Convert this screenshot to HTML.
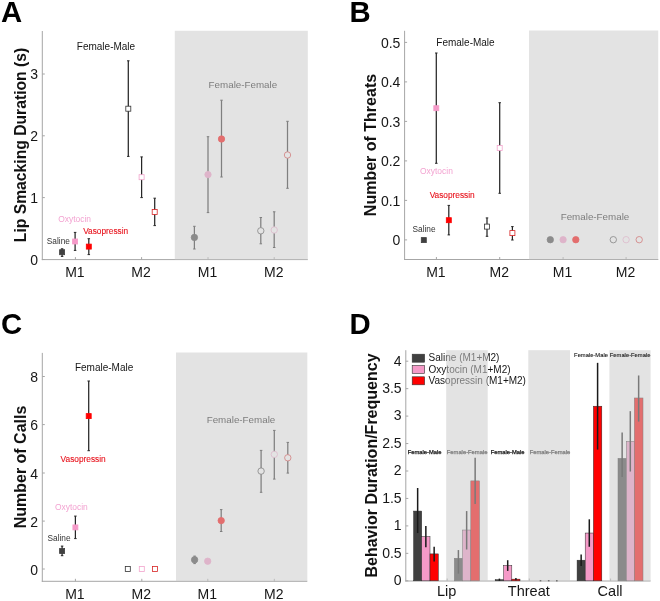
<!DOCTYPE html>
<html><head><meta charset="utf-8"><style>
html,body{margin:0;padding:0;background:#fff;}
body{width:660px;height:601px;overflow:hidden;}
svg{display:block;font-family:"Liberation Sans", sans-serif;will-change:transform;}
</style></head><body>
<svg width="660" height="601" viewBox="0 0 660 601">
<rect x="0" y="0" width="660" height="601" fill="#fff"/>
<text x="1.0" y="22.3" font-size="29.3" fill="#000" text-anchor="start" font-weight="bold" >A</text>
<line x1="42.3" y1="31" x2="42.3" y2="260.1" stroke="#a6a6a6" stroke-width="1"/>
<line x1="41.8" y1="259.6" x2="307.8" y2="259.6" stroke="#a6a6a6" stroke-width="1"/>
<line x1="42.3" y1="259.5" x2="44.8" y2="259.5" stroke="#a6a6a6" stroke-width="1"/>
<text x="38.099999999999994" y="264.5" font-size="14" fill="#161616" text-anchor="end" font-weight="normal" >0</text>
<line x1="42.3" y1="197.6" x2="44.8" y2="197.6" stroke="#a6a6a6" stroke-width="1"/>
<text x="38.099999999999994" y="202.6" font-size="14" fill="#161616" text-anchor="end" font-weight="normal" >1</text>
<line x1="42.3" y1="135.8" x2="44.8" y2="135.8" stroke="#a6a6a6" stroke-width="1"/>
<text x="38.099999999999994" y="140.8" font-size="14" fill="#161616" text-anchor="end" font-weight="normal" >2</text>
<line x1="42.3" y1="74.0" x2="44.8" y2="74.0" stroke="#a6a6a6" stroke-width="1"/>
<text x="38.099999999999994" y="79.0" font-size="14" fill="#161616" text-anchor="end" font-weight="normal" >3</text>
<line x1="75.4" y1="259.6" x2="75.4" y2="257.1" stroke="#a6a6a6" stroke-width="1"/>
<text x="74.9" y="277.20000000000005" font-size="14" fill="#161616" text-anchor="middle" font-weight="normal" >M1</text>
<line x1="141.6" y1="259.6" x2="141.6" y2="257.1" stroke="#a6a6a6" stroke-width="1"/>
<text x="141.1" y="277.20000000000005" font-size="14" fill="#161616" text-anchor="middle" font-weight="normal" >M2</text>
<line x1="208.0" y1="259.6" x2="208.0" y2="257.1" stroke="#a6a6a6" stroke-width="1"/>
<text x="207.5" y="277.20000000000005" font-size="14" fill="#161616" text-anchor="middle" font-weight="normal" >M1</text>
<line x1="274.2" y1="259.6" x2="274.2" y2="257.1" stroke="#a6a6a6" stroke-width="1"/>
<text x="273.7" y="277.20000000000005" font-size="14" fill="#161616" text-anchor="middle" font-weight="normal" >M2</text>
<text x="0" y="0" font-size="15.7" font-weight="bold" fill="#111" text-anchor="middle" transform="translate(26,145) rotate(-90)">Lip Smacking Duration (s)</text>
<line x1="62.1" y1="248.8" x2="62.1" y2="256.4" stroke="#262626" stroke-width="1.25"/>
<line x1="60.85" y1="248.8" x2="63.35" y2="248.8" stroke="#262626" stroke-width="1"/>
<line x1="60.85" y1="256.4" x2="63.35" y2="256.4" stroke="#262626" stroke-width="1"/>
<rect x="59.60" y="249.70" width="5.00" height="5.00" fill="#404040" stroke="#404040" stroke-width="0.8"/>
<line x1="75.1" y1="232.4" x2="75.1" y2="250.4" stroke="#262626" stroke-width="1.25"/>
<line x1="73.85" y1="232.4" x2="76.35" y2="232.4" stroke="#262626" stroke-width="1"/>
<line x1="73.85" y1="250.4" x2="76.35" y2="250.4" stroke="#262626" stroke-width="1"/>
<rect x="72.60" y="239.00" width="5.00" height="5.00" fill="#f59ac8" stroke="#f59ac8" stroke-width="0.8"/>
<line x1="88.8" y1="238.7" x2="88.8" y2="254.6" stroke="#262626" stroke-width="1.25"/>
<line x1="87.55" y1="238.7" x2="90.05" y2="238.7" stroke="#262626" stroke-width="1"/>
<line x1="87.55" y1="254.6" x2="90.05" y2="254.6" stroke="#262626" stroke-width="1"/>
<rect x="86.30" y="244.10" width="5.00" height="5.00" fill="#ff0000" stroke="#ff0000" stroke-width="0.8"/>
<line x1="128.3" y1="60.8" x2="128.3" y2="156.4" stroke="#262626" stroke-width="1.25"/>
<line x1="127.05000000000001" y1="60.8" x2="129.55" y2="60.8" stroke="#262626" stroke-width="1"/>
<line x1="127.05000000000001" y1="156.4" x2="129.55" y2="156.4" stroke="#262626" stroke-width="1"/>
<rect x="125.80" y="106.20" width="5.00" height="5.00" fill="#fff" stroke="#333333" stroke-width="0.8"/>
<line x1="141.6" y1="156.9" x2="141.6" y2="197.6" stroke="#262626" stroke-width="1.25"/>
<line x1="140.35" y1="156.9" x2="142.85" y2="156.9" stroke="#262626" stroke-width="1"/>
<line x1="140.35" y1="197.6" x2="142.85" y2="197.6" stroke="#262626" stroke-width="1"/>
<rect x="139.10" y="174.70" width="5.00" height="5.00" fill="#fff" stroke="#f2a4cc" stroke-width="0.8"/>
<line x1="154.7" y1="198.2" x2="154.7" y2="225.6" stroke="#262626" stroke-width="1.25"/>
<line x1="153.45" y1="198.2" x2="155.95" y2="198.2" stroke="#262626" stroke-width="1"/>
<line x1="153.45" y1="225.6" x2="155.95" y2="225.6" stroke="#262626" stroke-width="1"/>
<rect x="152.20" y="209.50" width="5.00" height="5.00" fill="#fff" stroke="#d82424" stroke-width="0.8"/>
<line x1="194.4" y1="226.3" x2="194.4" y2="249.0" stroke="#262626" stroke-width="1.25"/>
<line x1="193.15" y1="226.3" x2="195.65" y2="226.3" stroke="#262626" stroke-width="1"/>
<line x1="193.15" y1="249.0" x2="195.65" y2="249.0" stroke="#262626" stroke-width="1"/>
<circle cx="194.4" cy="237.4" r="3.2" fill="#404040" stroke="#404040" stroke-width="0.8"/>
<line x1="208.0" y1="136.7" x2="208.0" y2="212.6" stroke="#262626" stroke-width="1.25"/>
<line x1="206.75" y1="136.7" x2="209.25" y2="136.7" stroke="#262626" stroke-width="1"/>
<line x1="206.75" y1="212.6" x2="209.25" y2="212.6" stroke="#262626" stroke-width="1"/>
<circle cx="208.0" cy="174.6" r="3.2" fill="#f59ac8" stroke="#f59ac8" stroke-width="0.8"/>
<line x1="221.5" y1="100.2" x2="221.5" y2="177.0" stroke="#262626" stroke-width="1.25"/>
<line x1="220.25" y1="100.2" x2="222.75" y2="100.2" stroke="#262626" stroke-width="1"/>
<line x1="220.25" y1="177.0" x2="222.75" y2="177.0" stroke="#262626" stroke-width="1"/>
<circle cx="221.5" cy="139.0" r="3.2" fill="#ff0000" stroke="#ff0000" stroke-width="0.8"/>
<line x1="260.8" y1="217.5" x2="260.8" y2="243.8" stroke="#262626" stroke-width="1.25"/>
<line x1="259.55" y1="217.5" x2="262.05" y2="217.5" stroke="#262626" stroke-width="1"/>
<line x1="259.55" y1="243.8" x2="262.05" y2="243.8" stroke="#262626" stroke-width="1"/>
<circle cx="260.8" cy="230.8" r="3.2" fill="#fff" stroke="#333333" stroke-width="0.8"/>
<line x1="274.2" y1="211.8" x2="274.2" y2="247.5" stroke="#262626" stroke-width="1.25"/>
<line x1="272.95" y1="211.8" x2="275.45" y2="211.8" stroke="#262626" stroke-width="1"/>
<line x1="272.95" y1="247.5" x2="275.45" y2="247.5" stroke="#262626" stroke-width="1"/>
<circle cx="274.2" cy="230.0" r="3.2" fill="#fff" stroke="#f2a4cc" stroke-width="0.8"/>
<line x1="287.5" y1="121.3" x2="287.5" y2="188.3" stroke="#262626" stroke-width="1.25"/>
<line x1="286.25" y1="121.3" x2="288.75" y2="121.3" stroke="#262626" stroke-width="1"/>
<line x1="286.25" y1="188.3" x2="288.75" y2="188.3" stroke="#262626" stroke-width="1"/>
<circle cx="287.5" cy="155.0" r="3.2" fill="#fff" stroke="#d82424" stroke-width="0.8"/>
<text x="76.8" y="49.7" font-size="10" fill="#161616" text-anchor="start" font-weight="normal" >Female-Male</text>
<text x="208.6" y="88.3" font-size="9.8" fill="#161616" text-anchor="start" font-weight="normal" >Female-Female</text>
<text x="58.2" y="222.4" font-size="8.45" fill="#f3a3d1" text-anchor="start" font-weight="normal" >Oxytocin</text>
<text x="83.2" y="233.9" font-size="8.3" fill="#e8141e" text-anchor="start" font-weight="normal" stroke="#e8141e" stroke-width="0.12">Vasopressin</text>
<text x="46.8" y="243.6" font-size="8.3" fill="#333" text-anchor="start" font-weight="normal" >Saline</text>
<rect x="174.80" y="30.80" width="133.00" height="228.80" fill="#cbcbcb" stroke="none" stroke-width="1" fill-opacity="0.54"/>
<text x="349.6" y="22.3" font-size="29.3" fill="#000" text-anchor="start" font-weight="bold" >B</text>
<line x1="404.6" y1="30.8" x2="404.6" y2="260.0" stroke="#a6a6a6" stroke-width="1"/>
<line x1="404.1" y1="259.5" x2="658.3" y2="259.5" stroke="#a6a6a6" stroke-width="1"/>
<line x1="404.6" y1="239.9" x2="407.1" y2="239.9" stroke="#a6a6a6" stroke-width="1"/>
<text x="400.40000000000003" y="245.4" font-size="14" fill="#161616" text-anchor="end" font-weight="normal" >0</text>
<line x1="404.6" y1="200.4" x2="407.1" y2="200.4" stroke="#a6a6a6" stroke-width="1"/>
<text x="400.40000000000003" y="205.9" font-size="14" fill="#161616" text-anchor="end" font-weight="normal" >0.1</text>
<line x1="404.6" y1="160.9" x2="407.1" y2="160.9" stroke="#a6a6a6" stroke-width="1"/>
<text x="400.40000000000003" y="166.4" font-size="14" fill="#161616" text-anchor="end" font-weight="normal" >0.2</text>
<line x1="404.6" y1="121.4" x2="407.1" y2="121.4" stroke="#a6a6a6" stroke-width="1"/>
<text x="400.40000000000003" y="126.9" font-size="14" fill="#161616" text-anchor="end" font-weight="normal" >0.3</text>
<line x1="404.6" y1="81.9" x2="407.1" y2="81.9" stroke="#a6a6a6" stroke-width="1"/>
<text x="400.40000000000003" y="87.4" font-size="14" fill="#161616" text-anchor="end" font-weight="normal" >0.4</text>
<line x1="404.6" y1="42.4" x2="407.1" y2="42.4" stroke="#a6a6a6" stroke-width="1"/>
<text x="400.40000000000003" y="47.9" font-size="14" fill="#161616" text-anchor="end" font-weight="normal" >0.5</text>
<line x1="436.4" y1="259.5" x2="436.4" y2="257.0" stroke="#a6a6a6" stroke-width="1"/>
<text x="435.9" y="277.1" font-size="14" fill="#161616" text-anchor="middle" font-weight="normal" >M1</text>
<line x1="499.7" y1="259.5" x2="499.7" y2="257.0" stroke="#a6a6a6" stroke-width="1"/>
<text x="499.2" y="277.1" font-size="14" fill="#161616" text-anchor="middle" font-weight="normal" >M2</text>
<line x1="563.1" y1="259.5" x2="563.1" y2="257.0" stroke="#a6a6a6" stroke-width="1"/>
<text x="562.6" y="277.1" font-size="14" fill="#161616" text-anchor="middle" font-weight="normal" >M1</text>
<line x1="626.1" y1="259.5" x2="626.1" y2="257.0" stroke="#a6a6a6" stroke-width="1"/>
<text x="625.6" y="277.1" font-size="14" fill="#161616" text-anchor="middle" font-weight="normal" >M2</text>
<text x="0" y="0" font-size="16" font-weight="bold" fill="#111" text-anchor="middle" transform="translate(376,145) rotate(-90)">Number of Threats</text>
<rect x="421.30" y="237.60" width="5.00" height="5.00" fill="#404040" stroke="#404040" stroke-width="0.8"/>
<line x1="436.3" y1="53.0" x2="436.3" y2="163.3" stroke="#262626" stroke-width="1.25"/>
<line x1="435.05" y1="53.0" x2="437.55" y2="53.0" stroke="#262626" stroke-width="1"/>
<line x1="435.05" y1="163.3" x2="437.55" y2="163.3" stroke="#262626" stroke-width="1"/>
<rect x="433.80" y="105.70" width="5.00" height="5.00" fill="#f59ac8" stroke="#f59ac8" stroke-width="0.8"/>
<line x1="448.8" y1="205.4" x2="448.8" y2="234.9" stroke="#262626" stroke-width="1.25"/>
<line x1="447.55" y1="205.4" x2="450.05" y2="205.4" stroke="#262626" stroke-width="1"/>
<line x1="447.55" y1="234.9" x2="450.05" y2="234.9" stroke="#262626" stroke-width="1"/>
<rect x="446.30" y="217.70" width="5.00" height="5.00" fill="#ff0000" stroke="#ff0000" stroke-width="0.8"/>
<line x1="487.0" y1="217.9" x2="487.0" y2="236.3" stroke="#262626" stroke-width="1.25"/>
<line x1="485.75" y1="217.9" x2="488.25" y2="217.9" stroke="#262626" stroke-width="1"/>
<line x1="485.75" y1="236.3" x2="488.25" y2="236.3" stroke="#262626" stroke-width="1"/>
<rect x="484.50" y="224.10" width="5.00" height="5.00" fill="#fff" stroke="#333333" stroke-width="0.8"/>
<line x1="499.7" y1="102.7" x2="499.7" y2="193.3" stroke="#262626" stroke-width="1.25"/>
<line x1="498.45" y1="102.7" x2="500.95" y2="102.7" stroke="#262626" stroke-width="1"/>
<line x1="498.45" y1="193.3" x2="500.95" y2="193.3" stroke="#262626" stroke-width="1"/>
<rect x="497.20" y="145.50" width="5.00" height="5.00" fill="#fff" stroke="#f2a4cc" stroke-width="0.8"/>
<line x1="512.4" y1="226.6" x2="512.4" y2="240.0" stroke="#262626" stroke-width="1.25"/>
<line x1="511.15" y1="226.6" x2="513.65" y2="226.6" stroke="#262626" stroke-width="1"/>
<line x1="511.15" y1="240.0" x2="513.65" y2="240.0" stroke="#262626" stroke-width="1"/>
<rect x="509.90" y="230.60" width="5.00" height="5.00" fill="#fff" stroke="#d82424" stroke-width="0.8"/>
<circle cx="550.3" cy="239.7" r="3.2" fill="#404040" stroke="#404040" stroke-width="0.8"/>
<circle cx="563.1" cy="239.7" r="3.2" fill="#f59ac8" stroke="#f59ac8" stroke-width="0.8"/>
<circle cx="575.8" cy="239.7" r="3.2" fill="#ff0000" stroke="#ff0000" stroke-width="0.8"/>
<circle cx="613.3" cy="239.7" r="3.2" fill="#fff" stroke="#333333" stroke-width="0.8"/>
<circle cx="626.1" cy="239.7" r="3.2" fill="#fff" stroke="#f2a4cc" stroke-width="0.8"/>
<circle cx="639.2" cy="239.7" r="3.2" fill="#fff" stroke="#d82424" stroke-width="0.8"/>
<text x="436.3" y="46.1" font-size="10" fill="#161616" text-anchor="start" font-weight="normal" >Female-Male</text>
<text x="560.7" y="219.5" font-size="9.8" fill="#161616" text-anchor="start" font-weight="normal" >Female-Female</text>
<text x="420.0" y="173.9" font-size="8.45" fill="#f3a3d1" text-anchor="start" font-weight="normal" >Oxytocin</text>
<text x="429.7" y="197.9" font-size="8.3" fill="#e8141e" text-anchor="start" font-weight="normal" stroke="#e8141e" stroke-width="0.12">Vasopressin</text>
<text x="412.5" y="231.9" font-size="8.3" fill="#333" text-anchor="start" font-weight="normal" >Saline</text>
<rect x="529.00" y="30.50" width="129.20" height="229.00" fill="#cbcbcb" stroke="none" stroke-width="1" fill-opacity="0.54"/>
<text x="1.0" y="333.8" font-size="29.3" fill="#000" text-anchor="start" font-weight="bold" >C</text>
<line x1="42.3" y1="352.9" x2="42.3" y2="581.8" stroke="#a6a6a6" stroke-width="1"/>
<line x1="41.8" y1="581.3" x2="307.3" y2="581.3" stroke="#a6a6a6" stroke-width="1"/>
<line x1="42.3" y1="569.0" x2="44.8" y2="569.0" stroke="#a6a6a6" stroke-width="1"/>
<text x="38.099999999999994" y="574.5" font-size="14" fill="#161616" text-anchor="end" font-weight="normal" >0</text>
<line x1="42.3" y1="521.1" x2="44.8" y2="521.1" stroke="#a6a6a6" stroke-width="1"/>
<text x="38.099999999999994" y="526.6" font-size="14" fill="#161616" text-anchor="end" font-weight="normal" >2</text>
<line x1="42.3" y1="473.0" x2="44.8" y2="473.0" stroke="#a6a6a6" stroke-width="1"/>
<text x="38.099999999999994" y="478.5" font-size="14" fill="#161616" text-anchor="end" font-weight="normal" >4</text>
<line x1="42.3" y1="424.6" x2="44.8" y2="424.6" stroke="#a6a6a6" stroke-width="1"/>
<text x="38.099999999999994" y="430.1" font-size="14" fill="#161616" text-anchor="end" font-weight="normal" >6</text>
<line x1="42.3" y1="376.5" x2="44.8" y2="376.5" stroke="#a6a6a6" stroke-width="1"/>
<text x="38.099999999999994" y="382.0" font-size="14" fill="#161616" text-anchor="end" font-weight="normal" >8</text>
<line x1="75.4" y1="581.3" x2="75.4" y2="578.8" stroke="#a6a6a6" stroke-width="1"/>
<text x="74.9" y="598.9" font-size="14" fill="#161616" text-anchor="middle" font-weight="normal" >M1</text>
<line x1="141.8" y1="581.3" x2="141.8" y2="578.8" stroke="#a6a6a6" stroke-width="1"/>
<text x="141.3" y="598.9" font-size="14" fill="#161616" text-anchor="middle" font-weight="normal" >M2</text>
<line x1="207.8" y1="581.3" x2="207.8" y2="578.8" stroke="#a6a6a6" stroke-width="1"/>
<text x="207.3" y="598.9" font-size="14" fill="#161616" text-anchor="middle" font-weight="normal" >M1</text>
<line x1="274.3" y1="581.3" x2="274.3" y2="578.8" stroke="#a6a6a6" stroke-width="1"/>
<text x="273.8" y="598.9" font-size="14" fill="#161616" text-anchor="middle" font-weight="normal" >M2</text>
<text x="0" y="0" font-size="16" font-weight="bold" fill="#111" text-anchor="middle" transform="translate(26,467) rotate(-90)">Number of Calls</text>
<line x1="62.1" y1="546.1" x2="62.1" y2="555.7" stroke="#262626" stroke-width="1.25"/>
<line x1="60.85" y1="546.1" x2="63.35" y2="546.1" stroke="#262626" stroke-width="1"/>
<line x1="60.85" y1="555.7" x2="63.35" y2="555.7" stroke="#262626" stroke-width="1"/>
<rect x="59.60" y="548.60" width="5.00" height="5.00" fill="#404040" stroke="#404040" stroke-width="0.8"/>
<line x1="75.4" y1="516.1" x2="75.4" y2="538.6" stroke="#262626" stroke-width="1.25"/>
<line x1="74.15" y1="516.1" x2="76.65" y2="516.1" stroke="#262626" stroke-width="1"/>
<line x1="74.15" y1="538.6" x2="76.65" y2="538.6" stroke="#262626" stroke-width="1"/>
<rect x="72.90" y="524.90" width="5.00" height="5.00" fill="#f59ac8" stroke="#f59ac8" stroke-width="0.8"/>
<line x1="88.7" y1="381.0" x2="88.7" y2="450.7" stroke="#262626" stroke-width="1.25"/>
<line x1="87.45" y1="381.0" x2="89.95" y2="381.0" stroke="#262626" stroke-width="1"/>
<line x1="87.45" y1="450.7" x2="89.95" y2="450.7" stroke="#262626" stroke-width="1"/>
<rect x="86.20" y="413.60" width="5.00" height="5.00" fill="#ff0000" stroke="#ff0000" stroke-width="0.8"/>
<rect x="125.30" y="566.50" width="5.00" height="5.00" fill="#fff" stroke="#333333" stroke-width="0.8"/>
<rect x="139.30" y="566.50" width="5.00" height="5.00" fill="#fff" stroke="#f2a4cc" stroke-width="0.8"/>
<rect x="152.40" y="566.50" width="5.00" height="5.00" fill="#fff" stroke="#d82424" stroke-width="0.8"/>
<line x1="194.6" y1="556.1" x2="194.6" y2="563.6" stroke="#262626" stroke-width="1.25"/>
<line x1="193.35" y1="556.1" x2="195.85" y2="556.1" stroke="#262626" stroke-width="1"/>
<line x1="193.35" y1="563.6" x2="195.85" y2="563.6" stroke="#262626" stroke-width="1"/>
<circle cx="194.6" cy="559.8" r="3.2" fill="#404040" stroke="#404040" stroke-width="0.8"/>
<circle cx="207.7" cy="561.2" r="3.2" fill="#f59ac8" stroke="#f59ac8" stroke-width="0.8"/>
<line x1="221.2" y1="509.6" x2="221.2" y2="531.5" stroke="#262626" stroke-width="1.25"/>
<line x1="219.95" y1="509.6" x2="222.45" y2="509.6" stroke="#262626" stroke-width="1"/>
<line x1="219.95" y1="531.5" x2="222.45" y2="531.5" stroke="#262626" stroke-width="1"/>
<circle cx="221.2" cy="520.6" r="3.2" fill="#ff0000" stroke="#ff0000" stroke-width="0.8"/>
<line x1="261.1" y1="450.4" x2="261.1" y2="492.3" stroke="#262626" stroke-width="1.25"/>
<line x1="259.85" y1="450.4" x2="262.35" y2="450.4" stroke="#262626" stroke-width="1"/>
<line x1="259.85" y1="492.3" x2="262.35" y2="492.3" stroke="#262626" stroke-width="1"/>
<circle cx="261.1" cy="471.1" r="3.2" fill="#fff" stroke="#333333" stroke-width="0.8"/>
<line x1="274.3" y1="430.4" x2="274.3" y2="479.1" stroke="#262626" stroke-width="1.25"/>
<line x1="273.05" y1="430.4" x2="275.55" y2="430.4" stroke="#262626" stroke-width="1"/>
<line x1="273.05" y1="479.1" x2="275.55" y2="479.1" stroke="#262626" stroke-width="1"/>
<circle cx="274.3" cy="454.4" r="3.2" fill="#fff" stroke="#f2a4cc" stroke-width="0.8"/>
<line x1="287.8" y1="442.4" x2="287.8" y2="473.1" stroke="#262626" stroke-width="1.25"/>
<line x1="286.55" y1="442.4" x2="289.05" y2="442.4" stroke="#262626" stroke-width="1"/>
<line x1="286.55" y1="473.1" x2="289.05" y2="473.1" stroke="#262626" stroke-width="1"/>
<circle cx="287.8" cy="457.8" r="3.2" fill="#fff" stroke="#d82424" stroke-width="0.8"/>
<text x="74.9" y="371.2" font-size="10" fill="#161616" text-anchor="start" font-weight="normal" >Female-Male</text>
<text x="206.7" y="422.9" font-size="9.8" fill="#161616" text-anchor="start" font-weight="normal" >Female-Female</text>
<text x="54.9" y="510.3" font-size="8.45" fill="#f3a3d1" text-anchor="start" font-weight="normal" >Oxytocin</text>
<text x="60.6" y="462.3" font-size="8.3" fill="#e8141e" text-anchor="start" font-weight="normal" stroke="#e8141e" stroke-width="0.12">Vasopressin</text>
<text x="47.5" y="540.7" font-size="8.3" fill="#333" text-anchor="start" font-weight="normal" >Saline</text>
<rect x="176.00" y="352.50" width="131.30" height="228.80" fill="#cbcbcb" stroke="none" stroke-width="1" fill-opacity="0.54"/>
<text x="349.6" y="333.5" font-size="29.3" fill="#000" text-anchor="start" font-weight="bold" >D</text>
<line x1="405.8" y1="350.2" x2="405.8" y2="581.5" stroke="#a6a6a6" stroke-width="1"/>
<line x1="405.3" y1="581.0" x2="650.6" y2="581.0" stroke="#a6a6a6" stroke-width="1"/>
<line x1="405.8" y1="580.8" x2="408.3" y2="580.8" stroke="#a6a6a6" stroke-width="1"/>
<text x="401.6" y="585.0999999999999" font-size="14" fill="#161616" text-anchor="end" font-weight="normal" >0</text>
<line x1="405.8" y1="553.3499999999999" x2="408.3" y2="553.3499999999999" stroke="#a6a6a6" stroke-width="1"/>
<text x="401.6" y="557.6499999999999" font-size="14" fill="#161616" text-anchor="end" font-weight="normal" >0.5</text>
<line x1="405.8" y1="525.9" x2="408.3" y2="525.9" stroke="#a6a6a6" stroke-width="1"/>
<text x="401.6" y="530.1999999999999" font-size="14" fill="#161616" text-anchor="end" font-weight="normal" >1</text>
<line x1="405.8" y1="498.44999999999993" x2="408.3" y2="498.44999999999993" stroke="#a6a6a6" stroke-width="1"/>
<text x="401.6" y="502.74999999999994" font-size="14" fill="#161616" text-anchor="end" font-weight="normal" >1.5</text>
<line x1="405.8" y1="470.99999999999994" x2="408.3" y2="470.99999999999994" stroke="#a6a6a6" stroke-width="1"/>
<text x="401.6" y="475.29999999999995" font-size="14" fill="#161616" text-anchor="end" font-weight="normal" >2</text>
<line x1="405.8" y1="443.54999999999995" x2="408.3" y2="443.54999999999995" stroke="#a6a6a6" stroke-width="1"/>
<text x="401.6" y="447.84999999999997" font-size="14" fill="#161616" text-anchor="end" font-weight="normal" >2.5</text>
<line x1="405.8" y1="416.09999999999997" x2="408.3" y2="416.09999999999997" stroke="#a6a6a6" stroke-width="1"/>
<text x="401.6" y="420.4" font-size="14" fill="#161616" text-anchor="end" font-weight="normal" >3</text>
<line x1="405.8" y1="388.65" x2="408.3" y2="388.65" stroke="#a6a6a6" stroke-width="1"/>
<text x="401.6" y="392.95" font-size="14" fill="#161616" text-anchor="end" font-weight="normal" >3.5</text>
<line x1="405.8" y1="361.19999999999993" x2="408.3" y2="361.19999999999993" stroke="#a6a6a6" stroke-width="1"/>
<text x="401.6" y="365.49999999999994" font-size="14" fill="#161616" text-anchor="end" font-weight="normal" >4</text>
<line x1="447.2" y1="581.0" x2="447.2" y2="578.5" stroke="#a6a6a6" stroke-width="1"/>
<text x="446.7" y="596.2" font-size="14.5" fill="#161616" text-anchor="middle" font-weight="normal" >Lip</text>
<line x1="529.3" y1="581.0" x2="529.3" y2="578.5" stroke="#a6a6a6" stroke-width="1"/>
<text x="528.8" y="596.2" font-size="14.5" fill="#161616" text-anchor="middle" font-weight="normal" >Threat</text>
<line x1="610.6" y1="581.0" x2="610.6" y2="578.5" stroke="#a6a6a6" stroke-width="1"/>
<text x="610.1" y="596.2" font-size="14.5" fill="#161616" text-anchor="middle" font-weight="normal" >Call</text>
<text x="0" y="0" font-size="16" font-weight="bold" fill="#111" text-anchor="middle" transform="translate(377,465.5) rotate(-90)">Behavior Duration/Frequency</text>
<rect x="413.60" y="511.08" width="8.10" height="69.72" fill="#404040" stroke="#2a2a2a" stroke-width="0.5"/>
<line x1="417.65" y1="488.01899999999995" x2="417.65" y2="533.0369999999999" stroke="#1a1a1a" stroke-width="1.5"/>
<rect x="421.70" y="536.61" width="8.30" height="44.19" fill="#f59ac8" stroke="#2a2a2a" stroke-width="0.5"/>
<line x1="425.85" y1="525.9" x2="425.85" y2="547.3109999999999" stroke="#1a1a1a" stroke-width="1.5"/>
<rect x="430.00" y="553.90" width="8.30" height="26.90" fill="#ff0000" stroke="#2a2a2a" stroke-width="0.5"/>
<line x1="434.15" y1="546.762" x2="434.15" y2="561.5849999999999" stroke="#1a1a1a" stroke-width="1.5"/>
<rect x="454.30" y="558.29" width="8.20" height="22.51" fill="#404040" stroke="#2a2a2a" stroke-width="0.5"/>
<line x1="458.4" y1="550.0559999999999" x2="458.4" y2="573.663" stroke="#1a1a1a" stroke-width="1.5"/>
<rect x="462.50" y="530.02" width="8.30" height="50.78" fill="#f59ac8" stroke="#2a2a2a" stroke-width="0.5"/>
<line x1="466.65" y1="511.07699999999994" x2="466.65" y2="549.507" stroke="#1a1a1a" stroke-width="1.5"/>
<rect x="470.80" y="480.88" width="8.70" height="99.92" fill="#ff0000" stroke="#2a2a2a" stroke-width="0.5"/>
<line x1="475.15" y1="457.82399999999996" x2="475.15" y2="503.93999999999994" stroke="#1a1a1a" stroke-width="1.5"/>
<rect x="495.20" y="579.70" width="8.40" height="1.10" fill="#404040" stroke="#2a2a2a" stroke-width="0.5"/>
<line x1="499.4" y1="578.6039999999999" x2="499.4" y2="580.8" stroke="#1a1a1a" stroke-width="1.5"/>
<rect x="503.60" y="565.43" width="8.20" height="15.37" fill="#f59ac8" stroke="#2a2a2a" stroke-width="0.5"/>
<line x1="507.70000000000005" y1="560.2125" x2="507.70000000000005" y2="570.918" stroke="#1a1a1a" stroke-width="1.5"/>
<rect x="511.80" y="579.15" width="8.20" height="1.65" fill="#ff0000" stroke="#2a2a2a" stroke-width="0.5"/>
<line x1="515.9" y1="578.055" x2="515.9" y2="580.251" stroke="#1a1a1a" stroke-width="1.5"/>
<rect x="577.10" y="560.21" width="8.10" height="20.59" fill="#404040" stroke="#2a2a2a" stroke-width="0.5"/>
<line x1="581.1500000000001" y1="554.448" x2="581.1500000000001" y2="565.977" stroke="#1a1a1a" stroke-width="1.5"/>
<rect x="585.20" y="533.04" width="8.20" height="47.76" fill="#f59ac8" stroke="#2a2a2a" stroke-width="0.5"/>
<line x1="589.3" y1="519.3119999999999" x2="589.3" y2="546.762" stroke="#1a1a1a" stroke-width="1.5"/>
<rect x="593.40" y="406.22" width="8.40" height="174.58" fill="#ff0000" stroke="#2a2a2a" stroke-width="0.5"/>
<line x1="597.5999999999999" y1="362.847" x2="597.5999999999999" y2="449.58899999999994" stroke="#1a1a1a" stroke-width="1.5"/>
<rect x="618.00" y="458.37" width="8.30" height="122.43" fill="#404040" stroke="#2a2a2a" stroke-width="0.5"/>
<line x1="622.15" y1="432.56999999999994" x2="622.15" y2="477.039" stroke="#1a1a1a" stroke-width="1.5"/>
<rect x="626.30" y="441.35" width="8.00" height="139.45" fill="#f59ac8" stroke="#2a2a2a" stroke-width="0.5"/>
<line x1="630.3" y1="411.159" x2="630.3" y2="471.549" stroke="#1a1a1a" stroke-width="1.5"/>
<rect x="634.30" y="397.98" width="8.70" height="182.82" fill="#ff0000" stroke="#2a2a2a" stroke-width="0.5"/>
<line x1="638.65" y1="375.47399999999993" x2="638.65" y2="421.59" stroke="#1a1a1a" stroke-width="1.5"/>
<line x1="539.7" y1="580.6" x2="541.3" y2="580.6" stroke="#111" stroke-width="1.2"/>
<line x1="547.9000000000001" y1="580.6" x2="549.5" y2="580.6" stroke="#111" stroke-width="1.2"/>
<line x1="556.0" y1="580.6" x2="557.5999999999999" y2="580.6" stroke="#111" stroke-width="1.2"/>
<rect x="412.20" y="354.20" width="12.40" height="8.00" fill="#404040" stroke="#333" stroke-width="0.6"/>
<text x="428.6" y="361.4" font-size="10" fill="#161616" text-anchor="start" font-weight="normal" >Saline (M1+M2)</text>
<rect x="412.20" y="365.50" width="12.40" height="8.00" fill="#f59ac8" stroke="#333" stroke-width="0.6"/>
<text x="428.6" y="372.7" font-size="10" fill="#161616" text-anchor="start" font-weight="normal" >Oxytocin (M1+M2)</text>
<rect x="412.20" y="376.80" width="12.40" height="8.00" fill="#ff0000" stroke="#333" stroke-width="0.6"/>
<text x="428.6" y="384.0" font-size="10" fill="#161616" text-anchor="start" font-weight="normal" >Vasopressin (M1+M2)</text>
<text x="407.7" y="453.7" font-size="5.8" fill="#161616" text-anchor="start" font-weight="normal" stroke="#161616" stroke-width="0.25">Female-Male</text>
<text x="490.7" y="453.7" font-size="5.8" fill="#161616" text-anchor="start" font-weight="normal" stroke="#161616" stroke-width="0.25">Female-Male</text>
<text x="574.1" y="356.8" font-size="5.8" fill="#161616" text-anchor="start" font-weight="normal" stroke="#161616" stroke-width="0.1">Female-Male</text>
<text x="446.8" y="453.7" font-size="5.8" fill="#161616" text-anchor="start" font-weight="normal" stroke="#161616" stroke-width="0.25">Female-Female</text>
<text x="529.7" y="453.7" font-size="5.8" fill="#161616" text-anchor="start" font-weight="normal" stroke="#161616" stroke-width="0.25">Female-Female</text>
<rect x="446.20" y="350.20" width="41.50" height="230.80" fill="#cbcbcb" stroke="none" stroke-width="1" fill-opacity="0.54"/>
<rect x="528.30" y="350.20" width="41.70" height="230.80" fill="#cbcbcb" stroke="none" stroke-width="1" fill-opacity="0.54"/>
<rect x="609.40" y="350.20" width="41.20" height="230.80" fill="#cbcbcb" stroke="none" stroke-width="1" fill-opacity="0.54"/>
<text x="609.8" y="357.0" font-size="5.8" fill="#161616" text-anchor="start" font-weight="normal" stroke="#161616" stroke-width="0.1">Female-Female</text>
</svg>
</body></html>
